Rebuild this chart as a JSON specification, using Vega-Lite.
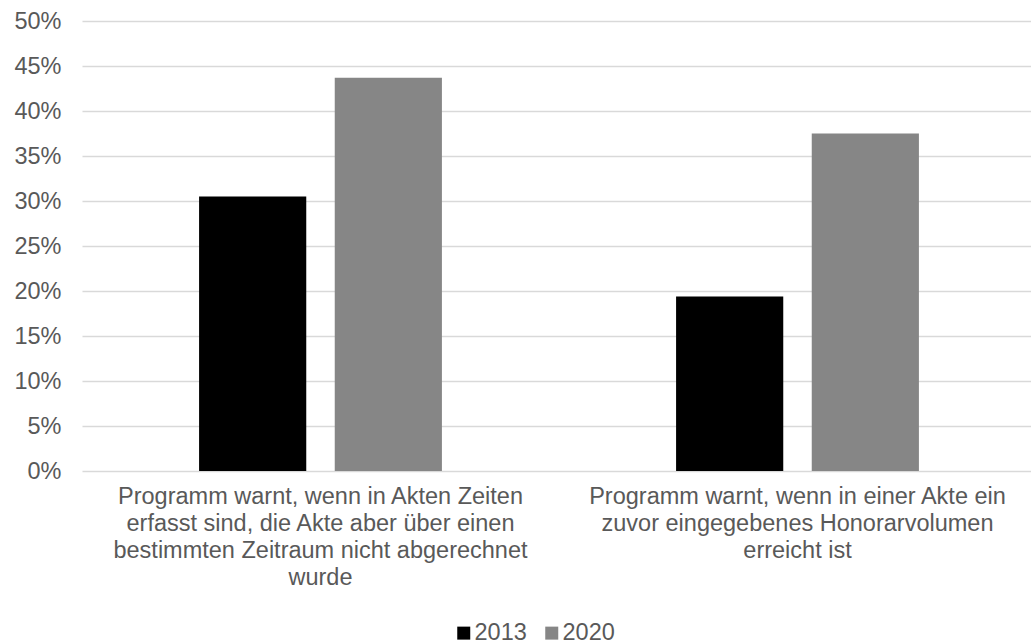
{
  "$schema": "https://vega.github.io/schema/vega-lite/v6.json",
  "width": 949,
  "height": 450,
  "autosize": {"type": "none"},
  "padding": {"left": 82, "top": 21, "right": 0, "bottom": 173},
  "background": "white",
  "data": {
    "values": [
      {"kategorie": "Programm warnt, wenn in Akten Zeiten\nerfasst sind, die Akte aber über einen\nbestimmten Zeitraum nicht abgerechnet\nwurde", "jahr": "2013", "anteil": 0.305},
      {"kategorie": "Programm warnt, wenn in Akten Zeiten\nerfasst sind, die Akte aber über einen\nbestimmten Zeitraum nicht abgerechnet\nwurde", "jahr": "2020", "anteil": 0.437},
      {"kategorie": "Programm warnt, wenn in einer Akte ein\nzuvor eingegebenes Honorarvolumen\nerreicht ist", "jahr": "2013", "anteil": 0.194},
      {"kategorie": "Programm warnt, wenn in einer Akte ein\nzuvor eingegebenes Honorarvolumen\nerreicht ist", "jahr": "2020", "anteil": 0.375}
    ]
  },
  "config": {
    "font": "Liberation Sans",
    "view": {"stroke": null}
  },
  "mark": {"type": "bar"},
  "encoding": {
    "x": {
      "field": "kategorie",
      "type": "nominal",
      "sort": null,
      "scale": {"range": [0, 954], "paddingInner": 0, "paddingOuter": 0},
      "axis": {
        "title": null,
        "labelAngle": 0,
        "labelExpr": "split(datum.label, '\\n')",
        "labelLimit": 0,
        "labelFontSize": 23.5,
        "labelLineHeight": 27,
        "labelColor": "#595959",
        "labelPadding": 13,
        "labelBaseline": "top",
        "ticks": false,
        "domain": false
      }
    },
    "xOffset": {
      "field": "jahr",
      "type": "nominal",
      "scale": {"paddingInner": 0.21, "paddingOuter": 0.863}
    },
    "y": {
      "field": "anteil",
      "type": "quantitative",
      "scale": {"domain": [0, 0.5], "nice": false},
      "axis": {
        "title": null,
        "format": ".0%",
        "values": [0, 0.05, 0.1, 0.15, 0.2, 0.25, 0.3, 0.35, 0.4, 0.45, 0.5],
        "labelFontSize": 23.5,
        "labelColor": "#595959",
        "labelPadding": 21,
        "ticks": false,
        "domain": false,
        "gridColor": "#d9d9d9",
        "gridWidth": 1.5
      }
    },
    "color": {
      "field": "jahr",
      "type": "nominal",
      "scale": {"domain": ["2013", "2020"], "range": ["#000000", "#868686"]},
      "legend": {
        "title": null,
        "orient": "none",
        "direction": "horizontal",
        "legendX": 370,
        "legendY": 600,
        "symbolType": "square",
        "symbolSize": 169,
        "symbolStrokeWidth": 0,
        "labelFontSize": 23.5,
        "labelColor": "#595959",
        "labelOffset": -1,
        "columnPadding": 13
      }
    }
  }
}
